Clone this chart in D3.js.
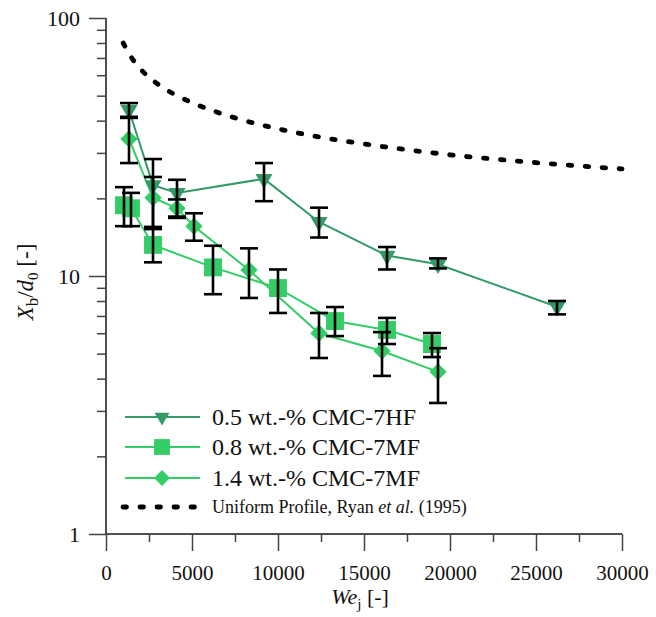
<!DOCTYPE html>
<html><head><meta charset="utf-8">
<script src="https://cdn.jsdelivr.net/npm/d3@7"></script>
<style>
body{margin:0;background:#fff;}
</style></head>
<body><svg id="c" width="656" height="617"></svg>
<script>
// ---- data ----
const we05 = [1337, 2733, 4128, 9186, 12384, 16337, 19302, 26221];
const xb05 = [44.0, 22.5, 21.0, 23.8, 16.2, 12.0, 11.1, 7.6];
const hi05 = [46.8, 28.4, 23.6, 27.4, 18.4, 12.95, 11.7, 8.0];
const lo05 = [41.4, 15.3, 17.0, 19.5, 14.1, 10.6, 10.7, 7.1];

const we08 = [1047, 1453, 2733, 6221, 10000, 13314, 16337, 18953];
const xb08 = [18.8, 18.3, 13.2, 10.8, 8.98, 6.69, 6.18, 5.45];
const hi08 = [22.1, 21.0, 15.2, 13.1, 10.6, 7.58, 6.88, 6.01];
const lo08 = [15.6, 15.6, 11.3, 8.5, 7.19, 5.85, 5.45, 4.85];

const we14 = [1337, 2733, 4128, 5116, 8314, 12384, 16047, 19302];
const xb14 = [34.0, 20.1, 18.3, 15.6, 10.55, 6.0, 5.12, 4.25];
const hi14 = [41.0, 24.2, 19.8, 17.5, 12.8, 7.19, 6.06, 5.25];
const lo14 = [27.4, 15.5, 16.8, 13.7, 8.22, 4.81, 4.10, 3.22];

const ryanWe = [1000, 1500, 2000, 3000, 4000, 5000, 7500, 10000, 12500, 15000, 20000, 25000, 30000];
const ryanXb = [80, 70, 63.5, 55.5, 50.5, 47, 41, 37.2, 34.5, 32.5, 29.5, 27.5, 26];

const xTicks = [0, 5000, 10000, 15000, 20000, 25000, 30000];
const xMinor = [2500, 7500, 12500, 17500, 22500, 27500];
const yTicks = [1, 10, 100];
const yMinor = [2,3,4,5,6,7,8,9,20,30,40,50,60,70,80,90];

const seriesNames = ["0.5 wt.-% CMC-7HF", "0.8 wt.-% CMC-7MF", "1.4 wt.-% CMC-7MF"];
const ryanName = ["Uniform Profile, Ryan ", "et al.", " (1995)"];

// ---- drawing ----
const FONT = '"Liberation Serif", "Times New Roman", Tinos';
const dark = "#339966", light = "#33cc66";
const svg = d3.select("#c");
const x = d3.scaleLinear().domain([0, 30000]).range([106, 622]);
const y = d3.scaleLog().domain([1, 100]).range([534, 18]);
const axisCol = "#444";

// axes
const gx = svg.append("g").attr("transform", "translate(0,534)");
gx.call(d3.axisBottom(x).tickValues(xTicks).tickSize(17).tickPadding(14).tickFormat(d3.format("d")));
gx.append("g").call(d3.axisBottom(x).tickValues(xMinor).tickSize(8).tickFormat(""));
const gy = svg.append("g").attr("transform", "translate(106,0)");
gy.call(d3.axisLeft(y).tickValues(yTicks).tickSize(17).tickPadding(9).tickFormat(d3.format("d")));
gy.append("g").call(d3.axisLeft(y).tickValues(yMinor).tickSize(9).tickFormat(""));
gx.selectAll(".domain").attr("d", "M106,0H622");
gy.selectAll(".domain").attr("d", "M0,18V534");
svg.selectAll(".domain").attr("stroke", axisCol).attr("stroke-width", 1.5);
svg.selectAll(".tick line").attr("stroke", axisCol).attr("stroke-width", 1.5);
gx.selectAll(".tick text").attr("font-size", 21).attr("fill", "#111");
gy.selectAll(".tick text").attr("font-size", 22).attr("fill", "#111");

// axis titles
const xt = svg.append("text").attr("x", 360).attr("y", 604).attr("text-anchor", "middle")
  .attr("font-size", 22).attr("fill", "#111");
xt.append("tspan").attr("font-style", "italic").text("We");
xt.append("tspan").attr("font-size", 15).attr("dy", 5).text("j");
xt.append("tspan").attr("dy", -5).text(" [-]");

const yt = svg.append("text").attr("transform", "translate(33,282) rotate(-90)")
  .attr("text-anchor", "middle").attr("font-size", 23).attr("fill", "#111");
yt.append("tspan").attr("font-style", "italic").text("X");
yt.append("tspan").attr("font-size", 17).attr("dy", 5).text("b");
yt.append("tspan").attr("dy", -5).text("/");
yt.append("tspan").attr("font-style", "italic").text("d");
yt.append("tspan").attr("font-size", 15).attr("dy", 5).text("0");
yt.append("tspan").attr("dy", -5).text(" [-]");

// Ryan curve
svg.append("path").datum(ryanWe.map((w, i) => [w, ryanXb[i]]))
  .attr("d", d3.line().x(d => x(d[0])).y(d => y(d[1])).curve(d3.curveMonotoneX))
  .attr("fill", "none").attr("stroke", "#000").attr("stroke-width", 4.8)
  .attr("stroke-dasharray", "3.5 13.5").attr("stroke-linecap", "round");

const triSym = d3.symbol(d3.symbolTriangle, 125)();
const sqSym = d3.symbol(d3.symbolSquare, 320)();
const diaSym = d3.symbol(d3.symbolSquare, 150)();
const series = [
  {we: we05, xb: xb05, hi: hi05, lo: lo05, col: dark, sym: triSym, rot: 180},
  {we: we08, xb: xb08, hi: hi08, lo: lo08, col: light, sym: sqSym, rot: 0},
  {we: we14, xb: xb14, hi: hi14, lo: lo14, col: light, sym: diaSym, rot: 45}
];
const line = d3.line().x(d => x(d[0])).y(d => y(d[1]));
series.forEach(s => {
  const pts = s.we.map((w, i) => [w, s.xb[i]]);
  svg.append("path").datum(pts).attr("d", line).attr("fill", "none")
    .attr("stroke", s.col).attr("stroke-width", 2);
});
series.forEach(s => {
  s.we.forEach((w, i) => {
    svg.append("path").attr("d", s.sym).attr("fill", s.col)
      .attr("transform", `translate(${x(w)},${y(s.xb[i])}) rotate(${s.rot})`);
  });
});
// error bars on top
series.forEach(s => {
  s.we.forEach((w, i) => {
    const cx = x(w), y1 = y(s.hi[i]), y2 = y(s.lo[i]);
    const g = svg.append("g").attr("stroke", "#000").attr("stroke-width", 2.6);
    g.append("line").attr("x1", cx).attr("x2", cx).attr("y1", y1).attr("y2", y2);
    g.append("line").attr("x1", cx - 9).attr("x2", cx + 9).attr("y1", y1).attr("y2", y1);
    g.append("line").attr("x1", cx - 9).attr("x2", cx + 9).attr("y1", y2).attr("y2", y2);
  });
});

// legend
const leg = svg.append("g");
const rowsY = [417, 447, 478];
const legSyms = [d3.symbol(d3.symbolTriangle, 95)(), d3.symbol(d3.symbolSquare, 250)(), d3.symbol(d3.symbolSquare, 125)()];
series.forEach((s, i) => {
  leg.append("line").attr("x1", 125).attr("x2", 200).attr("y1", rowsY[i]).attr("y2", rowsY[i])
    .attr("stroke", s.col).attr("stroke-width", 2);
  leg.append("path").attr("d", legSyms[i]).attr("fill", s.col)
    .attr("transform", `translate(162,${rowsY[i]}) rotate(${s.rot})`);
  leg.append("text").attr("x", 212).attr("y", rowsY[i] + 8).attr("font-size", 24).attr("fill", "#111")
    .text(seriesNames[i]);
});
leg.append("line").attr("x1", 123).attr("x2", 195).attr("y1", 507).attr("y2", 507)
  .attr("stroke", "#000").attr("stroke-width", 4.8).attr("stroke-dasharray", "3.5 13.5")
  .attr("stroke-linecap", "round");
const rt = leg.append("text").attr("x", 212).attr("y", 513).attr("font-size", 18).attr("fill", "#111");
rt.append("tspan").text(ryanName[0]);
rt.append("tspan").attr("font-style", "italic").text(ryanName[1]);
rt.append("tspan").text(ryanName[2]);

// apply font inline to every text element
svg.selectAll("text").style("font-family", FONT);
svg.selectAll("g").attr("font-family", null);
</script></body></html>
